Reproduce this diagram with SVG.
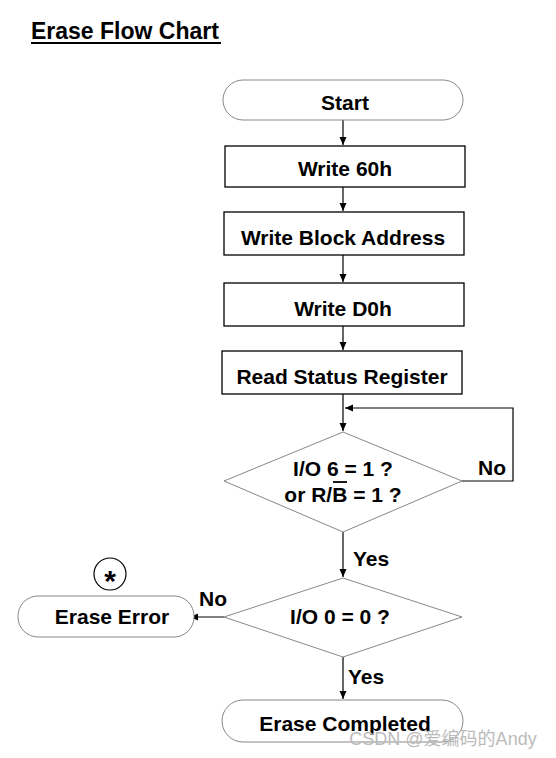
<svg xmlns="http://www.w3.org/2000/svg" width="556" height="758" viewBox="0 0 556 758">
<style>
text{font-family:"Liberation Sans",Arial,sans-serif;font-weight:bold;font-size:21px;fill:#000;text-anchor:middle;dominant-baseline:central}
.term{fill:#fff;stroke:#888;stroke-width:1}
.box{fill:#fff;stroke:#000;stroke-width:1.3}
.dia{fill:#fff;stroke:#888;stroke-width:1}
.ln{fill:none;stroke:#000;stroke-width:1.2}
.lbl{text-anchor:start}
</style>
<defs>
<marker id="ah" markerWidth="10" markerHeight="10" refX="9" refY="5" orient="auto" markerUnits="userSpaceOnUse">
<path d="M1,1.5 L9,5 L1,8.5 Z" fill="#000"/>
</marker>
</defs>
<rect width="556" height="758" fill="#fff"/>
<g id="title">
<text x="31" y="31" style="text-anchor:start;font-size:23px">Erase Flow Chart</text>
<line x1="31" y1="43" x2="221" y2="43" stroke="#000" stroke-width="2"/>
</g>
<g id="connectors">
<line class="ln" x1="343" y1="120" x2="343" y2="145" marker-end="url(#ah)"/>
<line class="ln" x1="343" y1="187" x2="343" y2="211" marker-end="url(#ah)"/>
<line class="ln" x1="343" y1="255" x2="343" y2="282" marker-end="url(#ah)"/>
<line class="ln" x1="343" y1="326" x2="343" y2="350" marker-end="url(#ah)"/>
<line class="ln" x1="343" y1="394" x2="343" y2="431" marker-end="url(#ah)"/>
<polyline class="ln" points="462,481 513,481 513,408 345,408" marker-end="url(#ah)"/>
<line class="ln" x1="343" y1="532" x2="343" y2="577" marker-end="url(#ah)"/>
<line class="ln" x1="224" y1="617" x2="190" y2="617" marker-end="url(#ah)"/>
<line class="ln" x1="343" y1="657" x2="343" y2="699" marker-end="url(#ah)"/>
<text class="lbl" x="478" y="467">No</text>
<text class="lbl" x="353" y="558">Yes</text>
<text class="lbl" x="199" y="598">No</text>
<text class="lbl" x="348" y="676">Yes</text>
</g>
<g id="start">
<rect class="term" x="223" y="80" width="240" height="40" rx="20"/>
<text x="345" y="102">Start</text>
</g>
<g id="write60h">
<rect class="box" x="225" y="146" width="240" height="41"/>
<text x="345" y="168">Write 60h</text>
</g>
<g id="writeaddr">
<rect class="box" x="224" y="212" width="240" height="43"/>
<text x="343" y="237">Write Block Address</text>
</g>
<g id="writed0h">
<rect class="box" x="224" y="283" width="240" height="43"/>
<text x="343" y="308">Write D0h</text>
</g>
<g id="readstatus">
<rect class="box" x="222" y="351" width="240" height="43"/>
<text x="342" y="376">Read Status Register</text>
</g>
<g id="decision1">
<polygon class="dia" points="343,432 462,481 343,532 224,481"/>
<text x="343" y="468">I/O 6 = 1 ?</text>
<text x="343" y="494">or R/B = 1 ?</text>
<line x1="333" y1="482" x2="347" y2="482" stroke="#000" stroke-width="1.8"/>
</g>
<g id="decision2">
<polygon class="dia" points="343,578 462,617 343,657 224,617"/>
<text x="340" y="616">I/O 0 = 0 ?</text>
</g>
<g id="eraseerror">
<rect class="term" x="18" y="596" width="176" height="41" rx="20"/>
<text x="112" y="616">Erase Error</text>
</g>
<g id="note">
<circle cx="110" cy="574" r="16" fill="#fff" stroke="#000" stroke-width="1.2"/>
<text x="110" y="580" style="font-size:30px">*</text>
</g>
<g id="erasecompleted">
<rect class="term" x="222" y="700" width="241" height="42" rx="21"/>
<text x="345" y="723">Erase Completed</text>
</g>
<text x="443" y="739" style="font-family:'Liberation Sans','Noto Sans CJK SC',sans-serif;font-weight:normal;font-size:18px;fill:#bbb">CSDN @爱编码的Andy</text>
</svg>
